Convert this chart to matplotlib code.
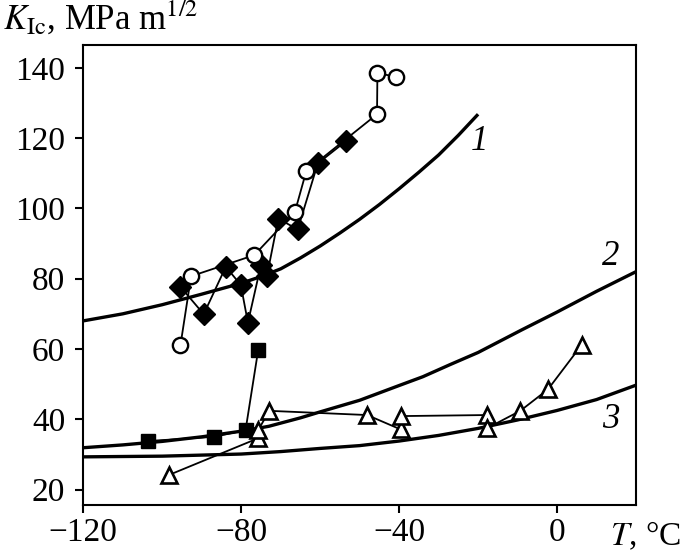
import matplotlib
matplotlib.use("Agg")
import matplotlib.pyplot as plt

plt.rcParams['font.family'] = ['Liberation Serif', 'DejaVu Serif']
plt.rcParams['mathtext.fontset'] = 'stix'

# smooth curves 1, 2, 3
c1_T = [-120, -110, -100, -90, -80, -75, -70, -65, -60, -55, -50, -45, -40, -35, -30, -25, -20]
c1_K = [68.0, 70.0, 72.6, 75.6, 78.7, 80.6, 82.8, 85.9, 89.3, 93.0, 96.9, 101.1, 105.6, 110.3, 115.2, 120.8, 126.8]

c2_T = [-120, -110, -100, -90, -80, -73, -65, -60, -50, -40, -34, -27, -20, -9, 0, 10, 20]
c2_K = [31.9, 32.7, 33.7, 35.0, 36.6, 38.0, 40.4, 42.1, 45.4, 49.6, 52.1, 55.6, 59.0, 65.4, 70.5, 76.4, 82.0]

c3_T = [-120, -100, -80, -70, -60, -50, -40, -30, -20, -10, 0, 10, 20]
c3_K = [29.3, 29.5, 30.1, 30.8, 31.7, 32.5, 33.8, 35.4, 37.4, 39.8, 42.5, 45.6, 49.7]

# experimental points
circ_T = [-95.4, -92.7, -76.7, -66.4, -63.5, -45.6, -45.5, -40.9]
circ_K = [61.0, 80.7, 86.7, 99.0, 110.7, 126.8, 138.6, 137.4]

diam_T = [-95.4, -89.5, -83.9, -80.1, -78.3, -75.0, -73.5, -70.6, -65.7, -60.6, -53.4]
diam_K = [77.7, 69.9, 83.4, 78.2, 67.5, 83.9, 80.7, 97.1, 94.0, 112.8, 119.2]

sq_T = [-103.7, -86.9, -78.9, -75.7]
sq_K = [33.8, 35.0, 36.9, 59.7]

tri_T = [-98.4, -75.7, -75.7, -72.9, -48.1, -39.6, -39.6, -17.8, -17.8, -9.3, -2.3, 6.2]
tri_K = [24.1, 34.6, 36.9, 42.4, 41.2, 37.1, 40.9, 41.2, 37.4, 42.4, 48.5, 61.1]

fig = plt.figure(figsize=(6.85, 5.54), dpi=100)
ax = fig.add_axes([83.3 / 685, 1 - 505 / 554, (636 - 83.3) / 685, (505 - 45) / 554])

ax.plot(c1_T, c1_K, color='black', lw=2.4, solid_capstyle='butt')
ax.plot(c2_T, c2_K, color='black', lw=2.4, solid_capstyle='butt')
ax.plot(c3_T, c3_K, color='black', lw=2.4, solid_capstyle='butt')

ax.plot(sq_T, sq_K, color='black', lw=1.3, marker='s', ms=10.5, mfc='black', mec='black')
ax.plot(tri_T, tri_K, color='black', lw=1.3, marker='^', ms=12, mfc='white', mec='black', mew=1.9)
ax.plot(diam_T, diam_K, color='black', lw=1.3, marker='D', ms=11.5, mfc='black', mec='black')
ax.plot(circ_T, circ_K, color='black', lw=1.3, marker='o', ms=11, mfc='white', mec='black', mew=1.7)

ax.text(-19.6, 118.9, '1', fontsize=25, style='italic', ha='center', va='center')
ax.text(13.5, 86.2, '2', fontsize=25, style='italic', ha='center', va='center')
ax.text(13.5, 39.8, '3', fontsize=25, style='italic', ha='center', va='center')

ax.set_xlim(-120, 20)
ax.set_ylim(15.6, 146.5)
ax.set_xticks([-120, -80, -40, 0])
ax.set_yticks([20, 40, 60, 80, 100, 120, 140])
ax.tick_params(direction='out', length=6, width=1.5, labelsize=24)
ax.tick_params(axis='y', pad=7)
ax.tick_params(axis='x', pad=3)
for s in ax.spines.values():
    s.set_linewidth(1.5)

fig.text(3 / 685, 1 - 30 / 554, r'$K_{\mathrm{Ic}}$, MPa m$^{1/2}$', fontsize=25,
         ha='left', va='baseline')
fig.text(610 / 685, 1 - 545 / 554, r'$T$, °C', fontsize=24, ha='left', va='baseline')

plt.savefig('out.png', dpi=100)
